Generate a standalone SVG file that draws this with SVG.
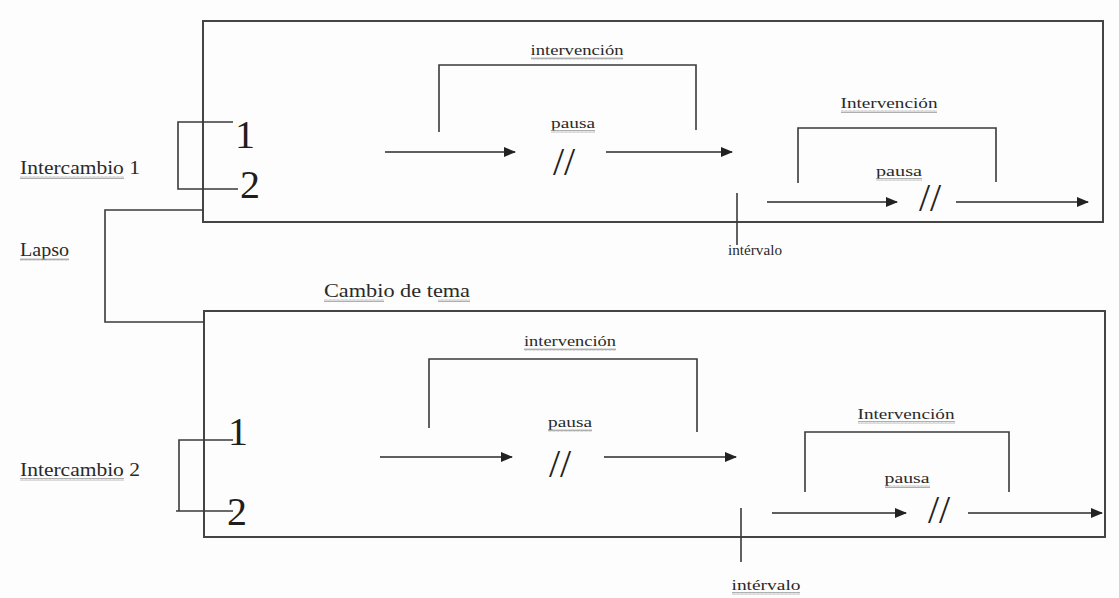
<svg xmlns="http://www.w3.org/2000/svg" width="1119" height="598" viewBox="0 0 1119 598">
  <defs>
    <marker id="arrow" viewBox="0 0 12 10" refX="11" refY="5" markerWidth="12" markerHeight="10" markerUnits="userSpaceOnUse" orient="auto">
      <path d="M0,0 L12,5 L0,10 Z" fill="#222"/>
    </marker>
    <!-- wavy proofing underline -->
    <pattern id="wavy" width="4" height="3" patternUnits="userSpaceOnUse">
      <path d="M0,2.5 L1,0.5 L2,2.5 L3,0.5 L4,2.5" fill="none" stroke="#9a9a9a" stroke-width="0.8"/>
    </pattern>
    <style>
      .line { fill: none; stroke: #3a3a3a; stroke-width: 1.6; }
      .box { fill: none; stroke: #444; stroke-width: 2; }
      .arr { fill: none; stroke: #2a2a2a; stroke-width: 1.6; marker-end: url(#arrow); }
      .lbl { font-family: "Liberation Serif", "Times New Roman", serif; fill: #2a2a2a; }
      .sm { font-size: 15px; text-anchor: middle; }
      .side { font-size: 19px; }
      .num { font-size: 40px; fill: #1e1e1e; }
      .slash { font-size: 40px; text-anchor: middle; fill: #222; }
      .ul { fill: url(#wavy); }
    </style>
  </defs>
  <rect width="1119" height="598" fill="#fdfdfd"/>

  <!-- exchange 1 -->
  <g id="intercambio1">
    <rect class="box" x="203" y="21" width="900" height="201"/>
    <text class="lbl side" x="20" y="174" textLength="120" lengthAdjust="spacingAndGlyphs">Intercambio 1</text>
    <rect class="ul" x="20" y="176" width="104" height="3"/>
    <path class="line" d="M233,122 H178 V189 H238"/>
    <text class="lbl num" x="235" y="148">1</text>
    <text class="lbl num" x="240" y="198">2</text>
  </g>

  <g id="intervencion1a">
    <text class="lbl sm" x="577" y="55" textLength="93" lengthAdjust="spacingAndGlyphs">intervención</text>
    <rect class="ul" x="531" y="57" width="92" height="3"/>
    <path class="line" d="M439,132 V65 H696 V130"/>
    <text class="lbl sm" x="573" y="128" textLength="44" lengthAdjust="spacingAndGlyphs">pausa</text>
    <rect class="ul" x="551" y="130" width="44" height="3"/>
    <text class="lbl slash" x="564" y="175">//</text>
  </g>

  <g id="intervencion1b">
    <text class="lbl sm" x="889" y="108" textLength="97" lengthAdjust="spacingAndGlyphs">Intervención</text>
    <rect class="ul" x="841" y="110" width="96" height="3"/>
    <path class="line" d="M798,183 V128 H996 V182"/>
    <text class="lbl sm" x="899" y="176" textLength="46" lengthAdjust="spacingAndGlyphs">pausa</text>
    <rect class="ul" x="876" y="178" width="46" height="3"/>
    <text class="lbl slash" x="930" y="211">//</text>
  </g>

  <g id="intervalo1">
    <path class="line" d="M737,193 V245"/>
    <text class="lbl sm" x="755" y="255" textLength="54" lengthAdjust="spacingAndGlyphs">intérvalo</text>
  </g>

  <!-- transition between exchanges -->
  <g id="lapso">
    <text class="lbl side" x="20" y="256" textLength="49" lengthAdjust="spacingAndGlyphs">Lapso</text>
    <rect class="ul" x="20" y="258" width="49" height="3"/>
    <text class="lbl side" x="324" y="297" textLength="146" lengthAdjust="spacingAndGlyphs">Cambio de tema</text>
    <rect class="ul" x="324" y="299" width="60" height="3"/>
    <rect class="ul" x="438" y="299" width="32" height="3"/>
  </g>

  <!-- exchange 2 -->
  <g id="intercambio2">
    <rect class="box" x="204" y="311" width="901" height="226"/>
    <text class="lbl side" x="20" y="476" textLength="120" lengthAdjust="spacingAndGlyphs">Intercambio 2</text>
    <rect class="ul" x="20" y="478" width="104" height="3"/>
    <path class="line" d="M233,440 H179 V511 M176,511 H233"/>
    <text class="lbl num" x="228" y="445">1</text>
    <text class="lbl num" x="227" y="525">2</text>
  </g>

  <g id="intervencion2a">
    <text class="lbl sm" x="570" y="346" textLength="92" lengthAdjust="spacingAndGlyphs">intervención</text>
    <rect class="ul" x="524" y="348" width="92" height="3"/>
    <path class="line" d="M429,428 V359 H697 V432"/>
    <text class="lbl sm" x="570" y="427" textLength="44" lengthAdjust="spacingAndGlyphs">pausa</text>
    <rect class="ul" x="548" y="429" width="44" height="3"/>
    <text class="lbl slash" x="560" y="477">//</text>
  </g>

  <g id="intervencion2b">
    <text class="lbl sm" x="906" y="419" textLength="97" lengthAdjust="spacingAndGlyphs">Intervención</text>
    <rect class="ul" x="858" y="421" width="97" height="3"/>
    <path class="line" d="M805,492 V432 H1009 V492"/>
    <text class="lbl sm" x="907" y="483" textLength="45" lengthAdjust="spacingAndGlyphs">pausa</text>
    <rect class="ul" x="885" y="485" width="45" height="3"/>
    <text class="lbl slash" x="939" y="523">//</text>
  </g>

  <g id="intervalo2">
    <path class="line" d="M741,508 V562"/>
    <text class="lbl sm" x="766" y="590" textLength="69" lengthAdjust="spacingAndGlyphs">intérvalo</text>
    <rect class="ul" x="732" y="592" width="68" height="3"/>
  </g>

  <!-- connectors -->
  <g id="connectors">
    <path class="line" d="M203,210 H105 V322 H204"/>
    <path class="arr" d="M385,152 H515"/>
    <path class="arr" d="M606,152 H732"/>
    <path class="arr" d="M767,202 H897"/>
    <path class="arr" d="M956,202 H1088"/>
    <path class="arr" d="M380,457 H512"/>
    <path class="arr" d="M604,457 H736"/>
    <path class="arr" d="M772,513 H906"/>
    <path class="arr" d="M968,513 H1102"/>
  </g>
</svg>
